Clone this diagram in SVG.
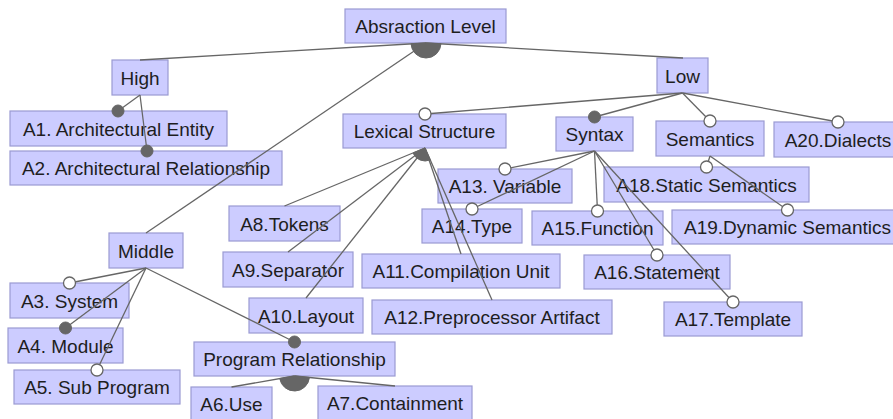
<svg xmlns="http://www.w3.org/2000/svg" width="893" height="419" viewBox="0 0 893 419">
<style>
.n rect{fill:#ccccff;stroke:#9a9ad2;stroke-width:1.2}
.n text{font-family:"Liberation Sans",Arial,sans-serif;font-size:19px;fill:#1e1e1e;text-anchor:middle}
.c line{stroke:#666;stroke-width:1.3}
.o{fill:#fff;stroke:#666;stroke-width:1.3}
.f{fill:#666;stroke:#666;stroke-width:1}
</style>
<rect width="893" height="419" fill="#fff"/>
<g class="n">
<g id="abs"><rect x="345" y="9" width="161" height="34"/><text x="425.5" y="33">Absraction Level</text></g>
<g id="high"><rect x="112" y="60" width="56" height="35"/><text x="140" y="84.5">High</text></g>
<g id="low"><rect x="657" y="58" width="51" height="35"/><text x="682.5" y="82.5">Low</text></g>
<g id="a1"><rect x="10" y="111" width="217" height="35"/><text x="118.5" y="135.5">A1. Architectural Entity</text></g>
<g id="a2"><rect x="10" y="151" width="272" height="34"/><text x="146" y="175">A2. Architectural Relationship</text></g>
<g id="lex"><rect x="343" y="114" width="163" height="34"/><text x="424.5" y="138">Lexical Structure</text></g>
<g id="syn"><rect x="556" y="117" width="77" height="34"/><text x="594.5" y="141">Syntax</text></g>
<g id="sem"><rect x="656" y="121" width="108" height="35"/><text x="710" y="145.5">Semantics</text></g>
<g id="a20"><rect x="774" y="122" width="128" height="35"/><text x="838" y="146.5">A20.Dialects</text></g>
<g id="a13"><rect x="438" y="169" width="134" height="34"/><text x="505" y="193">A13. Variable</text></g>
<g id="a18"><rect x="604" y="167" width="205" height="35"/><text x="706.5" y="191.5">A18.Static Semantics</text></g>
<g id="a14"><rect x="422" y="209" width="100" height="34"/><text x="472" y="233">A14.Type</text></g>
<g id="a15"><rect x="532" y="211" width="131" height="34"/><text x="597.5" y="235">A15.Function</text></g>
<g id="a19"><rect x="672" y="210" width="231" height="34"/><text x="787.5" y="234">A19.Dynamic Semantics</text></g>
<g id="a8"><rect x="229" y="206" width="111" height="35"/><text x="284.5" y="230.5">A8.Tokens</text></g>
<g id="mid"><rect x="109" y="233" width="74" height="35"/><text x="146" y="257.5">Middle</text></g>
<g id="a9"><rect x="223" y="252" width="130" height="35"/><text x="288" y="276.5">A9.Separator</text></g>
<g id="a11"><rect x="362" y="254" width="198" height="34"/><text x="461" y="278">A11.Compilation Unit</text></g>
<g id="a16"><rect x="584" y="255" width="146" height="34"/><text x="657" y="279">A16.Statement</text></g>
<g id="a3"><rect x="10" y="283" width="119" height="35"/><text x="69.5" y="307.5">A3. System</text></g>
<g id="a10"><rect x="249" y="298" width="114" height="35"/><text x="306" y="322.5">A10.Layout</text></g>
<g id="a12"><rect x="372" y="300" width="240" height="34"/><text x="492" y="324">A12.Preprocessor Artifact</text></g>
<g id="a17"><rect x="664" y="302" width="138" height="34"/><text x="733" y="326">A17.Template</text></g>
<g id="a4"><rect x="8" y="328" width="115" height="35"/><text x="65.5" y="352.5">A4. Module</text></g>
<g id="prel"><rect x="194" y="342" width="201" height="34"/><text x="294.5" y="366">Program Relationship</text></g>
<g id="a5"><rect x="14" y="370" width="166" height="34"/><text x="97" y="394">A5. Sub Program</text></g>
<g id="a6"><rect x="191" y="387" width="81" height="34"/><text x="231.5" y="411">A6.Use</text></g>
<g id="a7"><rect x="318" y="386" width="154" height="34"/><text x="395" y="410">A7.Containment</text></g>
</g>
<g id="connectors" class="c">
<line x1="426" y1="43" x2="140" y2="60"/>
<line x1="426" y1="43" x2="683" y2="58"/>
<line x1="426" y1="43" x2="146" y2="233"/>
<line x1="140" y1="95" x2="118" y2="111"/>
<line x1="140" y1="95" x2="147" y2="151"/>
<line x1="682.5" y1="93" x2="425" y2="114"/>
<line x1="682.5" y1="93" x2="594.5" y2="117"/>
<line x1="682.5" y1="93" x2="710" y2="121"/>
<line x1="682.5" y1="93" x2="838" y2="122"/>
<line x1="425" y1="148" x2="284.5" y2="206"/>
<line x1="425" y1="148" x2="288" y2="252"/>
<line x1="425" y1="148" x2="306" y2="298"/>
<line x1="425" y1="148" x2="461" y2="254"/>
<line x1="425" y1="148" x2="492" y2="300"/>
<line x1="594.5" y1="151" x2="505" y2="169"/>
<line x1="594.5" y1="151" x2="472" y2="209"/>
<line x1="594.5" y1="151" x2="597.5" y2="211"/>
<line x1="594.5" y1="151" x2="657" y2="255"/>
<line x1="594.5" y1="151" x2="733" y2="302"/>
<line x1="710" y1="156" x2="706.5" y2="167"/>
<line x1="710" y1="156" x2="787.5" y2="210"/>
<line x1="146" y1="268" x2="69.5" y2="283"/>
<line x1="146" y1="268" x2="65.5" y2="328"/>
<line x1="146" y1="268" x2="97" y2="370"/>
<line x1="146" y1="268" x2="294.5" y2="342"/>
<line x1="294.5" y1="376" x2="231.5" y2="387"/>
<line x1="294.5" y1="376" x2="395" y2="386"/>
<path class="f" d="M426,43 L440.98,43.86 A15,15 0 0 1 411.03,43.89 Z"/>
<path class="f" d="M425,148 L430.25,159.9 A13,13 0 0 1 412.99,152.97 Z"/>
<path class="f" d="M294.5,376 L309.43,377.49 A15,15 0 0 1 279.72,378.55 Z"/>
<circle class="f" cx="118" cy="111" r="6"/>
<circle class="f" cx="147" cy="151" r="6"/>
<circle class="o" cx="425" cy="114" r="6"/>
<circle class="f" cx="594.5" cy="117" r="6"/>
<circle class="o" cx="710" cy="121" r="6"/>
<circle class="o" cx="838" cy="122" r="6"/>
<circle class="o" cx="505" cy="169" r="6"/>
<circle class="o" cx="472" cy="209" r="6"/>
<circle class="o" cx="597.5" cy="211" r="6"/>
<circle class="o" cx="657" cy="255" r="6"/>
<circle class="o" cx="733" cy="302" r="6"/>
<circle class="o" cx="706.5" cy="167" r="6"/>
<circle class="o" cx="787.5" cy="210" r="6"/>
<circle class="o" cx="69.5" cy="283" r="6"/>
<circle class="f" cx="65.5" cy="328" r="6"/>
<circle class="o" cx="97" cy="370" r="6"/>
<circle class="f" cx="294.5" cy="342" r="6"/>
</g>
</svg>
